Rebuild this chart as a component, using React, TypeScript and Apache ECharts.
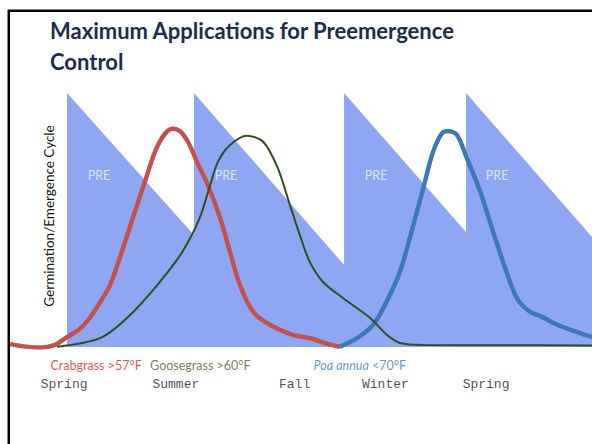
import { useEffect, useRef } from "react";
import * as echarts from "echarts";

// x: time through the year (0–100 across the plot), y: relative germination (0–100)
const preWindows: [number, number][] = [
  [9.8, 0], [9.8, 100], [31.6, 44.1], [31.6, 100], [57.4, 32.3], [57.4, 100],
  [78.35, 45.3], [78.35, 100], [100, 43.3],
];

const crabgrass: [number, number][] = [
  [0, 1.2], [2.6, 0.2], [5.2, -0.2], [7.7, 0.8], [9.8, 3.9], [12.0, 7.1], [13.7, 11.4],
  [15.5, 17.7], [17.2, 24.4], [19.2, 37.4], [21.1, 50.8], [23.0, 63.8], [24.9, 76.8],
  [26.6, 83.9], [28.0, 86.0], [29.2, 85.0], [30.4, 81.5], [31.4, 76.8], [32.6, 70.5],
  [34.0, 63.8], [36.1, 50.8], [37.8, 37.4], [39.5, 24.4], [41.8, 13.8], [44.7, 8.7],
  [48.6, 4.7], [51.5, 3.5], [54.1, 1.6], [56.7, 0.0],
];

const goosegrass: [number, number][] = [
  [8.1, 0.1], [15.5, 3.5], [20.1, 11.4], [25.3, 24.4], [29.6, 37.4], [32.6, 50.8],
  [34.4, 63.8], [35.7, 72.8], [37.8, 79.5], [40.7, 83.2], [43.5, 80.8], [46.0, 70.5],
  [48.1, 55.9], [49.8, 44.1], [51.5, 33.5], [53.8, 25.6], [57.2, 19.3], [61.9, 11.4],
  [64.8, 4.7], [67.0, 1.6], [71.0, 0.8], [84.2, 0.7], [100, 0.6],
];

const poaAnnua: [number, number][] = [
  [56.7, 0.1], [59.6, 3.4], [62.4, 8.7], [64.7, 17.8], [67.0, 29.6], [69.3, 48.0],
  [71.0, 62.5], [72.7, 76.9], [74.2, 84.1], [75.3, 85.0], [76.8, 83.5], [78.5, 74.3],
  [80.8, 61.1], [83.0, 45.4], [85.3, 29.6], [87.1, 19.2], [89.3, 13.9], [91.1, 12.2],
  [94.5, 8.3], [97.9, 5.5], [100, 3.9],
];

const preLabels = ["PRE", "PRE", "PRE", "PRE"];
const preLabelX = [15.3, 37.1, 62.9, 83.7];
const preLabelY = 67.7;

const speciesLabels = ["Crabgrass >57°F", "Goosegrass >60°F", "{i|Poa annua} <70°F"];
const speciesX = [14.8, 32.7, 60.1];
const speciesColors = ["#f0201c", "#4f6228", "#3a7cc4"];
const speciesY = -7.1;

const seasons = ["Spring", "Summer", "Fall", "Winter", "Spring"];
const seasonX = [9.3, 28.5, 48.9, 64.5, 81.8];
const seasonY = -14.6;

const title = "Maximum Applications for Preemergence\nControl";
const yName = "Germination/Emergence Cycle";

export default function App() {
  const ref = useRef<HTMLDivElement>(null);
  useEffect(() => {
    document.body.style.margin = "0";
    if (!ref.current) return;
    const chart = echarts.init(ref.current, null, { renderer: "svg" });
    const sans = "Lato, 'Open Sans', sans-serif";
    chart.setOption({
      animation: false,
      backgroundColor: "#ffffff",
      title: {
        text: title,
        left: 45,
        top: 10,
        textStyle: { fontFamily: sans, fontSize: 22, fontWeight: "bold", color: "#1a2d4d", lineHeight: 31 },
      },
      grid: { left: 10, right: 0, top: 93, bottom: 97 },
      xAxis: { type: "value", min: 0, max: 100, show: false },
      yAxis: { type: "value", min: 0, max: 100, show: false },
      graphic: [
        {
          type: "polyline",
          shape: { points: [[8.75, 444], [8.75, 10.75], [592, 10.75]] },
          style: { stroke: "#000", lineWidth: 2.5, fill: null },
          z: 100,
        },
        {
          type: "text",
          x: 49,
          y: 216,
          rotation: Math.PI / 2,
          style: {
            text: yName, fontFamily: sans, fontSize: 13.5, fill: "#111",
            align: "center", verticalAlign: "middle",
          },
          z: 100,
        },
      ],
      series: [
        {
          type: "line",
          data: preWindows,
          symbol: "none",
          lineStyle: { width: 0 },
          areaStyle: { color: "#8fa6f2", opacity: 1, origin: 0 },
          clip: false,
          z: 1,
        },
        {
          type: "scatter",
          data: preLabelX.map((x, i) => ({ value: [x, preLabelY], name: preLabels[i] })),
          symbolSize: 0,
          clip: false,
          z: 2,
          label: {
            show: true, position: "inside", formatter: "{b}",
            fontFamily: sans, fontSize: 12.5, color: "rgba(255,255,255,0.9)",
          },
        },
        {
          type: "line",
          data: crabgrass,
          symbol: "none",
          smooth: 0.3,
          clip: false,
          z: 3,
          lineStyle: { color: "#c4514e", width: 4.2, shadowColor: "rgba(192,80,77,0.6)", shadowBlur: 1.5 },
        },
        {
          type: "line",
          data: poaAnnua,
          symbol: "none",
          smooth: 0.3,
          clip: false,
          z: 4,
          lineStyle: { color: "#3e79b7", width: 4.2, shadowColor: "rgba(62,121,183,0.6)", shadowBlur: 1.5 },
        },
        {
          type: "line",
          data: goosegrass,
          symbol: "none",
          smooth: 0.3,
          clip: false,
          z: 5,
          lineStyle: { color: "#2f4f1f", width: 2 },
        },
        {
          type: "scatter",
          data: speciesX.map((x, i) => ({
            value: [x, speciesY], name: speciesLabels[i],
            label: { color: speciesColors[i] },
          })),
          symbolSize: 0,
          clip: false,
          label: {
            show: true, position: "inside", formatter: "{b}",
            fontFamily: sans, fontSize: 12.5,
            rich: { i: { fontStyle: "italic", fontFamily: sans, fontSize: 12.5, color: "#3a7cc4" } },
          },
        },
        {
          type: "scatter",
          data: seasonX.map((x, i) => ({ value: [x, seasonY], name: seasons[i] })),
          symbolSize: 0,
          clip: false,
          label: {
            show: true, position: "inside", formatter: "{b}",
            fontFamily: "'Liberation Mono', 'DejaVu Sans Mono', monospace", fontSize: 13, color: "#222",
          },
        },
      ],
    });
    return () => chart.dispose();
  }, []);
  return <div ref={ref} style={{ width: 592, height: 444 }} />;
}
